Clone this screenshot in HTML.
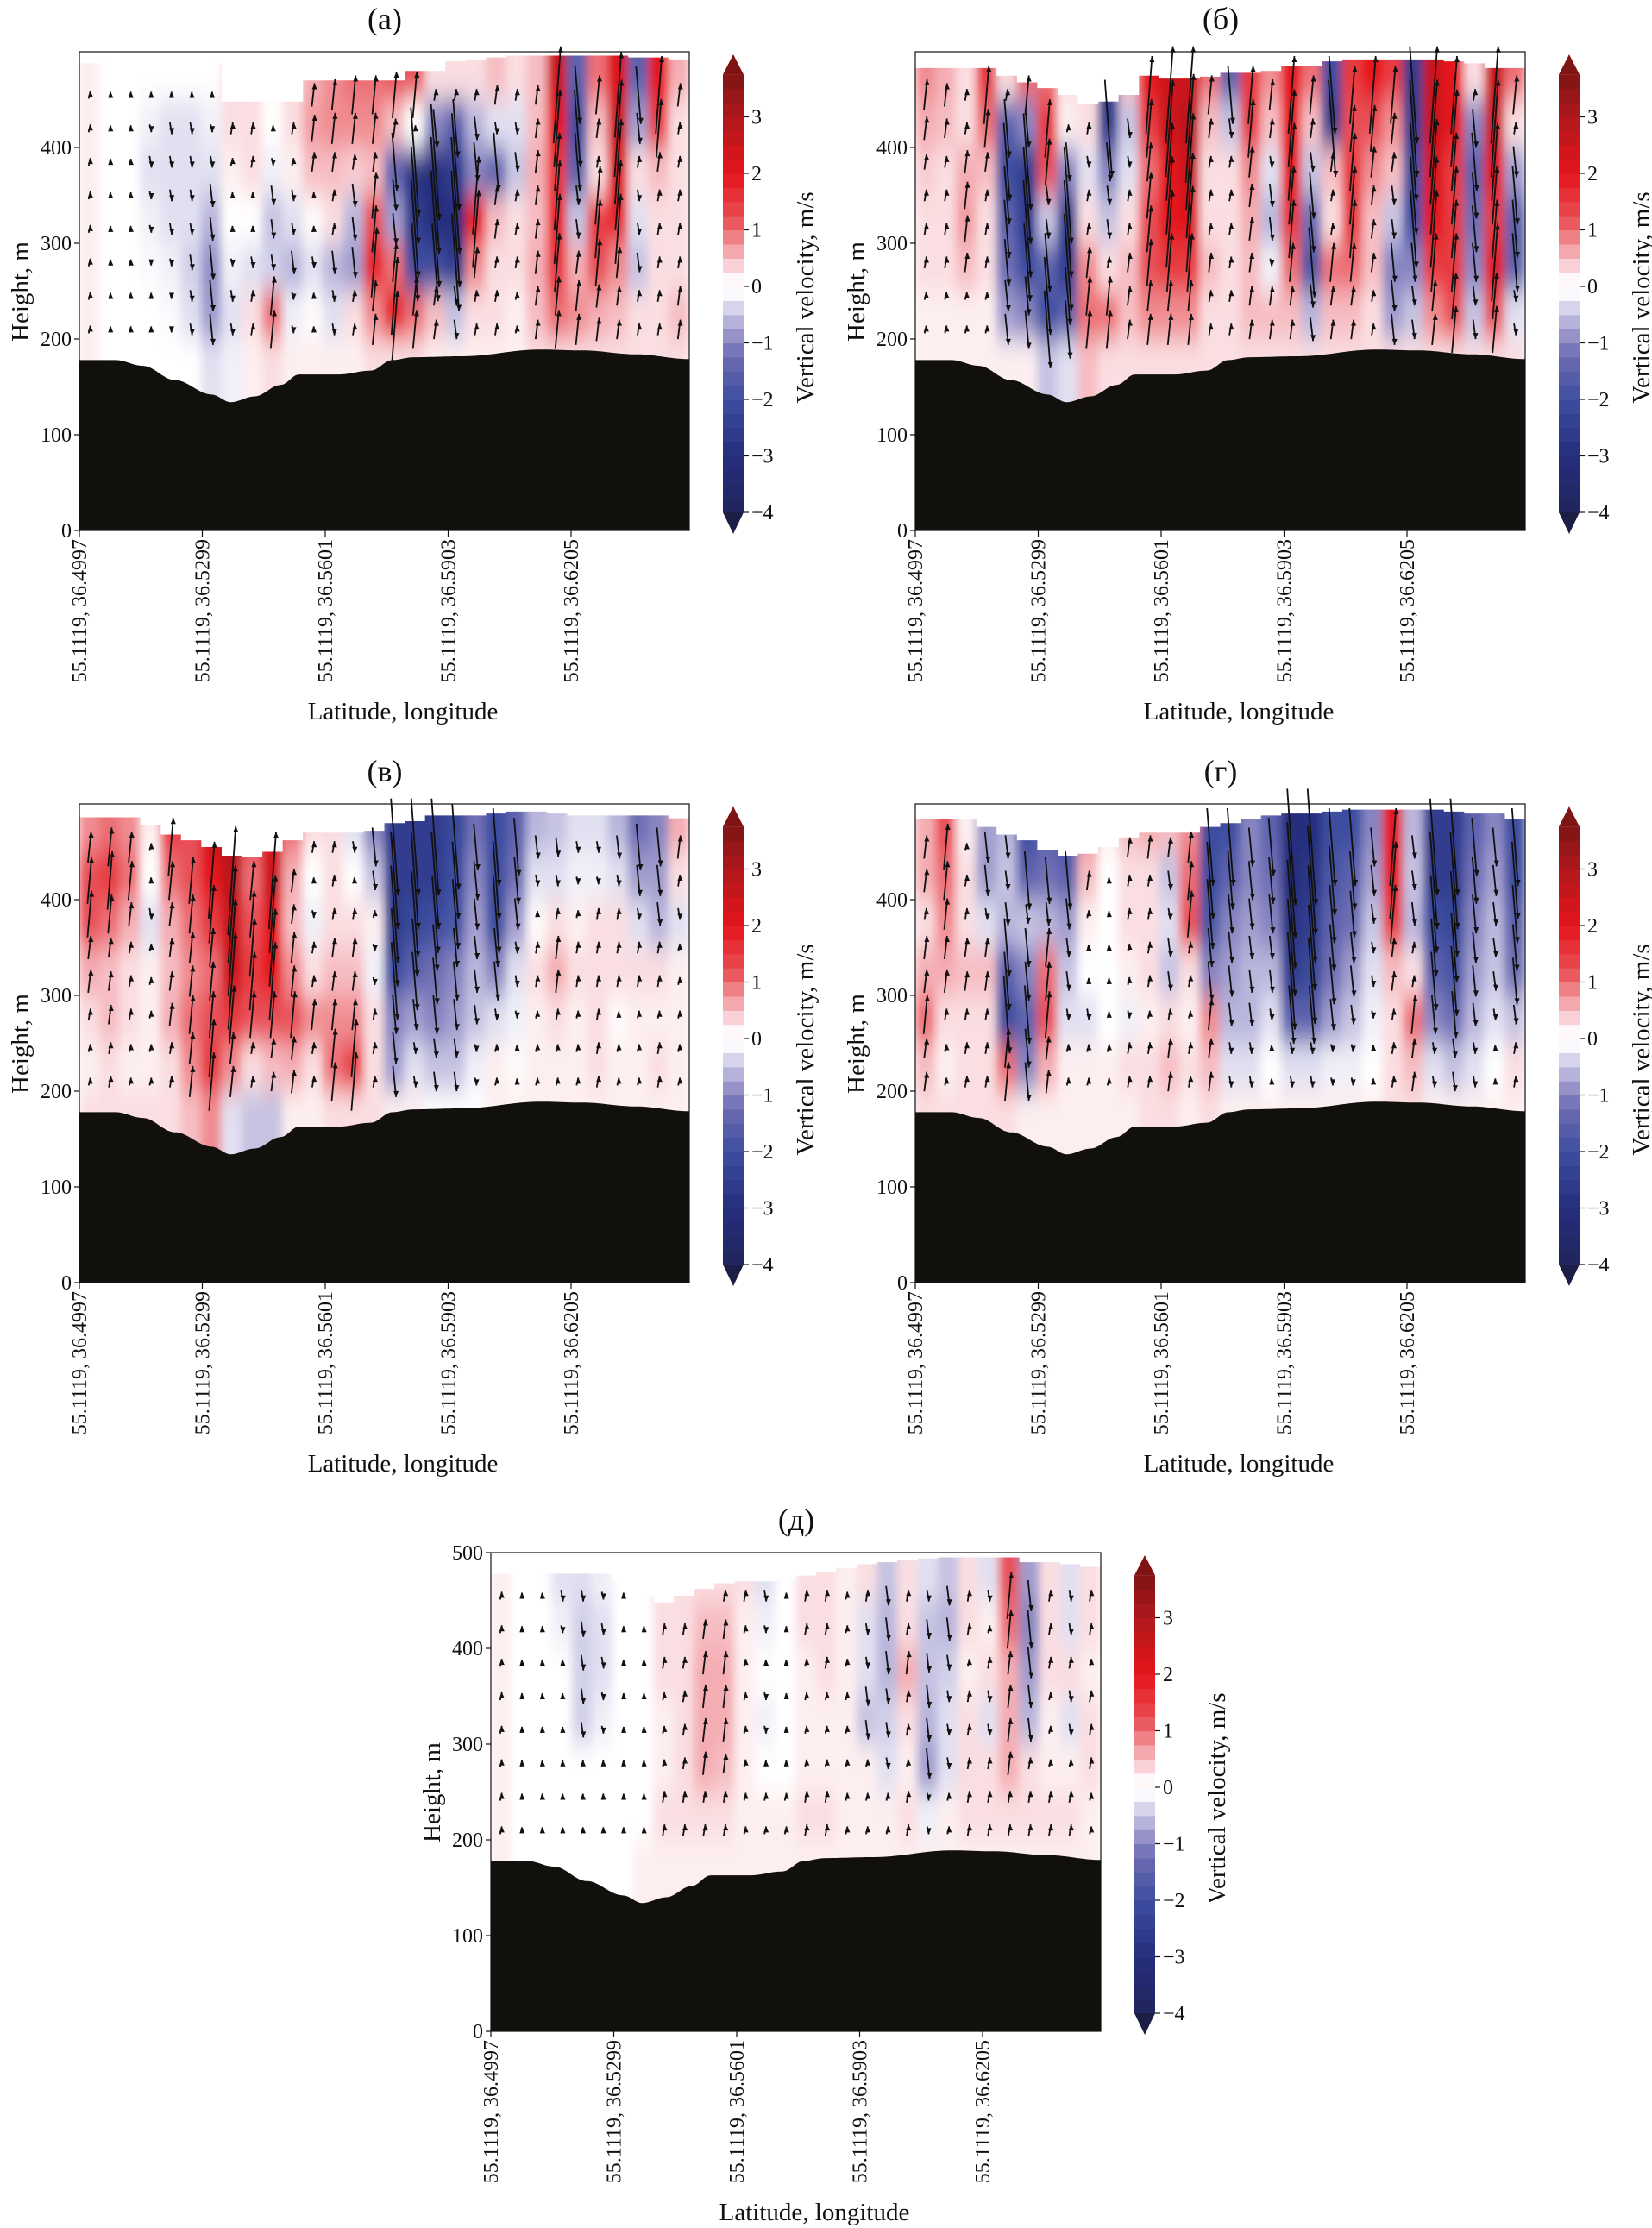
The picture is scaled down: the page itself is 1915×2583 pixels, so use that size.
<!DOCTYPE html>
<html><head><meta charset="utf-8"><title>Vertical velocity cross-sections</title>
<style>
html,body{margin:0;padding:0;background:#fff;}
svg{display:block;font-family:"Liberation Serif",serif;}
</style></head>
<body>
<svg id="fig" width="1915" height="2583" viewBox="0 0 1915 2583" xmlns="http://www.w3.org/2000/svg">
<defs>
<filter id="soft" x="-5%" y="-5%" width="110%" height="110%"><feGaussianBlur stdDeviation="5 16"/></filter>
</defs>
</svg>
<script>
// ---- shared data ----
const xTickLabels = ["55.1119, 36.4997","55.1119, 36.5299","55.1119, 36.5601","55.1119, 36.5903","55.1119, 36.6205"];
const yTicksStd = [0,100,200,300,400];
const yTicksD = [0,100,200,300,400,500];
const cbTicks = [3,2,1,0,-1,-2,-3,-4];
const rowHeights = [475,425,375,325,275,225,175];
const terrainX = [0,.06,.104,.157,.217,.248,.287,.33,.36,.426,.478,.513,.548,.626,.757,.826,.913,1];
const terrainH = [178,178,172,157,142,134,140,152,163,163,167,178,181,182,189,188,184,179];

// vertical velocity, m/s: each column lists rows 475,425,375,325,275,225,175 m
const velA = [
[.2,.2,.2,.2,.2,.2,.2],[0,0,0,0,0,0,0],[0,0,0,0,0,0,0],[0,-.2,-.3,-.2,-.1,0,0],[0,-.3,-.3,-.3,-.2,-.1,0],
[0,-.3,-.3,-.3,-.4,-.3,0],[0,-.2,-.3,-.6,-.9,-.8,-.3],[.3,.3,.2,0,-.2,-.3,-.2],[.3,.3,.3,0,-.3,.3,.2],[.1,0,-.2,-.5,-.4,1.0,.3],
[.3,.3,.2,-.3,-.6,-.2,.2],[.6,.7,.5,.1,-.3,.1,.2],[.8,.8,.5,.3,-.6,-.3,.2],[1.0,.8,.4,-.6,-.8,.3,.2],[1.0,.8,.5,1.2,1.8,.8,.3],
[1.2,.5,-1.5,-.8,1.0,2.0,.3],[1.2,0,-2.8,-2.5,-2.0,1.0,.3],[.3,-1.0,-3.0,-3.0,-2.0,.5,.2],[.3,-1.5,-2.5,-3.0,-2.5,-.5,.2],[.3,-.6,-1.0,2.0,.8,.3,.2],
[.5,-.3,-1.5,.5,.3,.3,.2],[.3,-.3,-.5,.3,.3,.2,.2],[.5,.5,.6,.5,.6,.5,.3],[2.5,2.0,1.5,1.8,1.5,1.0,.3],[-1.5,-2.0,-1.5,-.5,.6,.8,.3],
[1.0,.5,.3,1.5,1.2,.6,.3],[2.2,2.5,2.2,1.8,.8,.5,.3],[-1.5,-.8,.3,-.3,-.5,.3,.3],[2.0,1.5,.5,.3,.3,.3,.3],[.6,.3,.3,.3,.3,.5,.3]];
const topA = [488,488,488,488,488,488,488,448,448,448,448,470,470,470,470,470,480,480,490,492,494,496,496,496,496,496,496,494,494,492];

const velB = [
[.8,.6,.4,.3,.3,.2,.2],[.6,.5,.3,.3,.3,.2,.2],[.3,.3,.6,.7,.5,.2,.2],[1.5,1.0,.5,.3,.3,.2,.2],[.3,-1.5,-2.0,-1.5,-1.2,-.8,.2],
[1.0,-1.0,-2.5,-2.5,-2.0,-1.0,.2],[1.0,1.5,1.2,-.5,-1.5,-2.0,-.5],[.3,.2,-1.0,-2.5,-2.5,-1.5,-.3],[.3,.3,-.3,.3,.8,1.0,.5],[-2.5,-2.5,-1.0,-.5,.3,1.0,.3],
[.5,-.5,-.3,.3,.5,.5,.3],[2.0,1.5,1.0,1.2,1.2,.8,.3],[2.5,2.5,2.0,2.0,1.5,.8,.3],[2.5,2.8,2.5,2.2,1.5,.8,.3],[1.0,.5,.3,.3,.5,.3,.3],
[-1.5,-.5,.3,.3,.3,.3,.3],[1.5,1.5,.8,.6,.5,.5,.3],[.8,.5,-.3,-.6,-.2,.5,.3],[2.0,2.0,2.0,1.5,1.0,.5,.3],[1.0,.5,-.5,-1.2,-1.8,-.6,.3],
[-2.0,-2.5,.5,.3,1.0,.5,.3],[1.5,1.2,1.5,1.5,1.0,.5,.3],[2.0,1.2,.8,.5,.5,.3,.3],[1.5,.8,.5,-.5,-1.0,-.8,.3],[-2.5,-2.5,-2.0,-2.0,-1.0,-.5,.3],
[2.5,2.5,2.2,2.0,1.5,.8,.3],[2.0,2.0,1.5,1.5,1.5,1.2,.3],[.3,-1.0,-1.5,-1.2,-1.0,-.5,.3],[2.5,2.5,2.0,1.5,2.0,1.2,.3],[1.0,.3,-.8,-1.5,-1.5,-.3,.3]];
const topB = [483,483,483,483,475,468,462,455,446,448,455,475,472,472,474,478,478,480,485,485,490,492,492,492,492,492,490,488,483,483];

const velV = [
[.8,1.2,1.2,.6,.3,.2,.3],[1.0,1.5,1.0,.5,.5,.3,.3],[.8,1.0,.6,.3,.3,.2,.3],[.2,0,-.3,.2,.2,.2,.3],[1.5,1.0,.6,.5,.6,.3,.3],
[1.2,1.2,1.0,.8,1.0,.8,.5],[2.5,2.0,1.5,1.0,1.2,1.5,.8],[3.0,2.8,2.5,2.5,1.5,.8,-.3],[1.5,1.0,1.2,1.5,1.2,.3,-.5],[2.0,2.5,2.0,2.0,1.2,.5,-.5],
[1.0,.6,.5,.8,1.2,.6,.2],[.3,0,-.2,.3,.8,.3,.2],[.3,.3,.3,.5,.8,1.0,.3],[-.3,0,.3,.5,.8,1.5,.3],[-1.0,-.5,.2,-.2,.3,.3,.3],
[-2.5,-2.5,-2.5,-2.0,-1.0,-.8,.2],[-2.5,-2.5,-2.2,-1.5,-.8,-.3,.2],[-2.5,-2.5,-2.0,-1.2,-1.0,-.5,0],[-2.2,-2.0,-1.8,-1.0,-.8,-.5,0],[-1.2,-1.0,-.8,-.6,-.5,-.2,0],
[-2.0,-2.0,-2.0,-1.0,-.3,.2,.2],[-1.5,-1.2,-.8,-.3,-.2,.1,.2],[-.6,-.3,.1,.3,.2,.2,.2],[-.5,-.3,.3,.6,.3,.2,.2],[-.3,-.2,.2,.3,.2,.2,.2],
[-.3,-.2,.3,.3,.3,.3,.2],[-.6,-.3,.3,.3,.1,.2,.2],[-1.2,-.8,-.3,.3,.2,.2,.2],[-1.0,-.8,-.6,.3,.2,.3,.2],[.6,.3,-.3,.2,.2,.2,.2]];
const topV = [486,486,486,478,468,462,455,446,445,450,462,470,470,470,472,480,482,488,488,488,490,492,492,490,488,488,488,488,488,485];

const velG = [
[.6,.6,.3,.6,1.0,.5,.3],[1.2,1.0,.8,.6,.3,.2,.3],[.2,.3,.3,.5,.3,.3,.3],[-.8,-.8,-.3,.5,.3,.3,.3],[-.6,-.5,-.6,-1.5,-2.0,1.0,.3],
[-2.0,-1.5,-.5,-1.0,-1.5,-1.0,.2],[-1.5,-1.2,-.6,1.0,1.2,.6,.2],[-2.0,-1.5,-.8,-.5,-.3,.2,.2],[.8,.5,.2,0,-.3,.2,.2],[.2,0,0,0,0,.2,.2],
[.5,.3,.3,.2,-.2,.3,.2],[.6,.3,.3,.3,.2,.3,.3],[.5,-.5,-.3,-.5,.3,.5,.3],[.8,1.0,1.2,.3,.2,.3,.2],[-2.0,-2.0,-1.8,-1.0,.8,.5,.3],
[-2.0,-1.5,-1.0,-.8,-.6,-.3,.2],[-1.0,-1.0,-.8,-.6,-.6,-.3,.2],[-1.5,-1.2,-1.0,-.6,-.3,0,.2],[-3.0,-3.0,-2.8,-2.5,-1.5,-.3,.2],[-3.0,-2.8,-2.5,-2.2,-1.5,-.3,.2],
[-2.0,-1.8,-1.5,-1.2,-.8,-.2,.2],[-2.0,-1.5,-1.2,-.8,-.5,-.2,.2],[-1.0,-.8,-.5,-.3,-.2,0,.2],[2.0,2.0,1.5,.5,.3,.3,.3],[-.6,-.5,-.6,.3,1.0,.5,.3],
[-2.5,-2.5,-2.0,-1.5,-1.0,-.3,.2],[-2.5,-2.5,-2.2,-1.8,-1.2,-.5,.2],[-1.5,-1.2,-1.0,-.8,-.6,-.3,.2],[-1.0,-.8,-.6,-.5,-.3,0,.2],[-2.0,-2.0,-1.5,-1.2,-.5,.3,.2]];
const topG = [484,484,484,476,468,462,452,446,448,455,465,470,470,470,476,480,484,488,490,490,492,494,494,494,494,494,492,490,490,484];

const velD = [
[.2,.2,.2,.2,.2,.2,.2],[0,0,0,0,0,0,0],[0,0,0,0,0,0,0],[-.3,-.2,0,0,0,0,0],[-.3,-.4,-.4,-.4,0,0,0],
[-.2,-.3,-.3,-.2,0,0,0],[0,0,0,0,0,0,0],[0,0,0,0,0,0,.2],[.3,.3,.3,.2,.2,.3,.2],[.3,.3,.3,.3,.3,.3,.2],
[.3,.5,.6,.6,.6,.3,.2],[.3,.5,.6,.6,.5,.3,.2],[.3,.2,.2,.2,.2,.2,.2],[-.3,-.2,0,-.2,0,.2,.2],[0,0,0,0,0,.2,.2],
[.3,.3,.2,.2,.2,.3,.2],[.3,.3,.3,.2,.2,.3,.2],[.2,.2,.2,.2,.2,.2,.2],[.3,-.3,-.3,-.5,.2,.2,.2],[-.5,-.6,-.6,-.4,-.3,.2,.2],
[.3,.3,.6,.3,.2,.3,.2],[-.3,-.5,-.5,-.6,-.8,-.2,.2],[-.5,-.6,-.4,-.3,-.3,.2,.2],[.3,.3,.2,.3,.3,.3,.2],[-.3,.2,.3,-.3,.3,.3,.2],
[1.2,1.0,.6,.6,.6,.3,.2],[-.8,-1.0,-.8,-.6,.3,.3,.2],[.3,.3,.3,.2,.2,.3,.2],[-.3,-.3,.3,-.3,.2,.3,.2],[.3,.3,.2,.3,.3,.2,.2]];
const topD = [478,478,478,478,478,478,470,455,448,455,462,468,470,470,472,476,480,484,488,490,492,494,495,495,495,495,490,490,488,485];

// ---- rendering ----
const NS = "http://www.w3.org/2000/svg";
const svg = document.getElementById('fig');
function mk(tag, attrs, parent){ const e=document.createElementNS(NS,tag); for(const k in attrs) e.setAttribute(k,attrs[k]); (parent||svg).appendChild(e); return e; }

const stops = [[-4.2,[28,30,70]],[-4,[32,36,92]],[-3,[38,46,125]],[-2,[62,78,160]],[-1.2,[110,110,180]],[-0.8,[160,156,206]],[-0.4,[210,208,233]],[-0.15,[248,248,252]],[0,[255,255,255]],[0.15,[254,247,248]],[0.4,[248,205,210]],[0.8,[240,140,145]],[1.2,[232,80,86]],[2,[230,20,28]],[3,[176,24,28]],[3.75,[128,20,20]]];
function cmap(v){
  if(v<=stops[0][0]) return 'rgb('+stops[0][1].join(',')+')';
  for(let i=1;i<stops.length;i++){ if(v<=stops[i][0]){ const a=stops[i-1],b=stops[i]; const t=(v-a[0])/(b[0]-a[0]); const c=a[1].map((q,j)=>Math.round(q+(b[1][j]-q)*t)); return 'rgb('+c.join(',')+')'; } }
  return 'rgb('+stops[stops.length-1][1].join(',')+')';
}
function terrainAt(f){
  for(let i=1;i<terrainX.length;i++){ if(f<=terrainX[i]){ const t=(f-terrainX[i-1])/(terrainX[i]-terrainX[i-1]); const s=(1-Math.cos(Math.PI*t))/2; return terrainH[i-1]+(terrainH[i]-terrainH[i-1])*s; } }
  return terrainH[terrainH.length-1];
}

const X0=92, X1=799, Y0=615, PXM=1.11;
const panels = [
 {key:'a', title:'(а)', dx:0, dy:0, vel:velA, top:topA, yt:yTicksStd},
 {key:'b', title:'(б)', dx:969, dy:0, vel:velB, top:topB, yt:yTicksStd},
 {key:'v', title:'(в)', dx:0, dy:872, vel:velV, top:topV, yt:yTicksStd},
 {key:'g', title:'(г)', dx:969, dy:872, vel:velG, top:topG, yt:yTicksStd},
 {key:'d', title:'(д)', dx:477, dy:1740, vel:velD, top:topD, yt:yTicksD}
];

panels.forEach(p=>{
  const g = mk('g',{transform:'translate('+p.dx+','+p.dy+')'});
  
  
  const xs = f => X0 + f*(X1-X0);
  const ys = h => Y0 - h*PXM;
  const n = p.vel.length, cw = (X1-X0)/n;

  let d = 'M'+X0+','+Y0;
  p.top.forEach((t,i)=>{ d += ' L'+(X0+i*cw)+','+ys(t)+' L'+(X0+(i+1)*cw)+','+ys(t); });
  d += ' L'+X1+','+Y0+' Z';
  const cp = mk('clipPath',{id:'clip-'+p.key},g);
  mk('path',{d:d},cp);

  const field = mk('g',{'clip-path':'url(#clip-'+p.key+')'},g);
  
  
  const blur = mk('g',{filter:'url(#soft)'},field);
  p.vel.forEach((col,i)=>{
    col.forEach((v,r)=>{
      const hTop = r===0 ? 540 : rowHeights[r]+25;
      const hBot = r===rowHeights.length-1 ? 110 : rowHeights[r]-25;
      const cell = mk('rect',{x:X0+i*cw-0.5, y:ys(hTop), width:cw+1, height:(hTop-hBot)*PXM, fill:cmap(v)},blur);
      
      
    });
  });

  let td = 'M'+X0+','+Y0;
  for(let k=0;k<=200;k++){ const f=k/200; td += ' L'+xs(f).toFixed(1)+','+ys(terrainAt(f)).toFixed(1); }
  td += ' L'+X1+','+Y0+' Z';
  const terr = mk('path',{d:td, fill:'#12100c'},g);
  
  

  const arrows = mk('g',{stroke:'#111',fill:'#111','stroke-width':1.8},g);
  
  
  p.vel.forEach((col,i)=>{
    const f=(i+0.5)/n, cx=xs(f);
    for(let h=210; h<500; h+=35){
      if(h > p.top[i]-8 || h < terrainAt(f)+12) continue;
      let r = Math.round((475-h)/50); r=Math.max(0,Math.min(rowHeights.length-1,r));
      const v = col[r];
      const len = Math.max(7, Math.min(150, Math.abs(v)*45));
      const s = v>=0 ? -1 : 1;
      const tilt = 0.06*len+1.5;
      const xA=cx-tilt/2, yA=ys(h)-s*len/2, xB=cx+tilt/2, yB=ys(h)+s*len/2;
      const ln = mk('line',{x1:xA,y1:yA,x2:xB,y2:yB},arrows);
      
      
      const hd = mk('path',{d:'M'+xB+','+yB+' l-3,'+(-s*7)+' l6,0 Z', stroke:'none'},arrows);
      
      
    }
  });

  const fr = mk('rect',{x:X0,y:ys(500),width:X1-X0,height:Y0-ys(500),fill:'none',stroke:'#111','stroke-width':1.2},g);
  
  

  p.yt.forEach(t=>{
    mk('line',{x1:X0-6,x2:X0,y1:ys(t),y2:ys(t),stroke:'#111','stroke-width':1.2},g);
    const tx = mk('text',{x:X0-9,y:ys(t)+8,'font-size':24,'text-anchor':'end',fill:'#111'},g);
    tx.textContent=t;
    
    
  });
  xTickLabels.forEach((lab,k)=>{
    const x = X0 + k*142.5;
    mk('line',{x1:x,x2:x,y1:Y0,y2:Y0+7,stroke:'#111','stroke-width':1.2},g);
    const tx = mk('text',{x:0,y:0,'font-size':24,'text-anchor':'end',fill:'#111',transform:'translate('+(x+8)+','+(Y0+10)+') rotate(-90)'},g);
    tx.textContent=lab;
    
    
  });
  const yl = mk('text',{x:0,y:0,'font-size':29,'text-anchor':'middle',fill:'#111',transform:'translate(33,338) rotate(-90)'},g);
  yl.textContent='Height, m';
  
  
  const xl = mk('text',{x:467,y:834,'font-size':29,'text-anchor':'middle',fill:'#111'},g);
  xl.textContent='Latitude, longitude';
  
  
  const tt = mk('text',{x:446,y:34,'font-size':36,'text-anchor':'middle',fill:'#111'},g);
  tt.textContent=p.title;
  
  

  const cb = mk('g',{},g);
  
  
  const CX0=838, CX1=862, cy = v => 332 - v*65.5;
  const vTop=3.75, vBot=-4.0;
  for(let v=vBot; v<vTop-0.01; v+=0.25){
    mk('rect',{x:CX0,y:cy(Math.min(v+0.25,vTop)),width:CX1-CX0,height:0.25*65.5+0.6,fill:cmap(v+0.125)},cb);
  }
  mk('path',{d:'M'+CX0+','+cy(vTop)+' L'+((CX0+CX1)/2)+',63 L'+CX1+','+cy(vTop)+' Z',fill:cmap(3.75)},cb);
  mk('path',{d:'M'+CX0+','+cy(vBot)+' L'+((CX0+CX1)/2)+',619 L'+CX1+','+cy(vBot)+' Z',fill:cmap(-4.2)},cb);
  cbTicks.forEach(t=>{
    mk('line',{x1:CX1,x2:CX1+6,y1:cy(t),y2:cy(t),stroke:'#111','stroke-width':1.2},cb);
    const tx = mk('text',{x:CX1+9,y:cy(t)+8,'font-size':24,fill:'#111'},cb);
    tx.textContent = t<0 ? '\u2212'+(-t) : String(t);
    
    
  });
  const cl = mk('text',{x:0,y:0,'font-size':29,'text-anchor':'middle',fill:'#111',transform:'translate(943,345) rotate(-90)'},cb);
  cl.textContent='Vertical velocity, m/s';
  
  
});
</script>
</body></html>
